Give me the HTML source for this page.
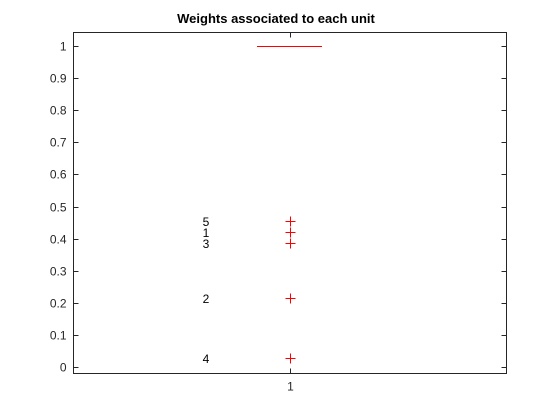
<!DOCTYPE html>
<html><head><meta charset="utf-8"><style>
body{margin:0;background:#fff}
svg{display:block;font-family:"Liberation Sans",Arial,sans-serif}
</style></head><body>
<svg id="chart" width="560" height="420" viewBox="0 0 560 420" xmlns="http://www.w3.org/2000/svg">
<rect x="0" y="0" width="560" height="420" fill="#fff"/>
<text x="276" y="23" text-anchor="middle" font-size="13" font-weight="bold" fill="#000">Weights associated to each unit</text>
<g id="axes"></g>
<g id="marks"></g>
</svg>
<script>
const yTicks=[0,0.1,0.2,0.3,0.4,0.5,0.6,0.7,0.8,0.9,1];
const yTickLabels=["0","0.1","0.2","0.3","0.4","0.5","0.6","0.7","0.8","0.9","1"];
const medianValue=1;
const outlierValues=[0.42,0.215,0.386,0.027,0.455];
const outlierLabels=["1","2","3","4","5"];
const xCategories=["1"];

const L=73.5,R=506.5,T=32.5,B=373.5,y0=367,y1=46;
const ys=v=>y0+(y1-y0)*v;
const xs=i=>290;
const NS="http://www.w3.org/2000/svg";
const ax=document.getElementById('axes'),mk=document.getElementById('marks');
function el(tag,attrs,parent,txt){const e=document.createElementNS(NS,tag);for(const k in attrs)e.setAttribute(k,attrs[k]);if(txt!==undefined)e.textContent=txt;parent.appendChild(e);return e;}
const box=el('rect',{x:L,y:T,width:R-L,height:B-T,fill:'none',stroke:'#262626','stroke-width':1},ax);


yTicks.forEach((v,i)=>{
  const y=Math.round(ys(v))+0.5;
  const t=el('path',{d:`M${L} ${y}h5M${R} ${y}h-5`,stroke:'#262626','stroke-width':1},ax);
  
  
  const lb=el('text',{x:L-7,y:y+4,'text-anchor':'end','font-size':'12',fill:'#262626'},ax,yTickLabels[i]);
  
  
});
xCategories.forEach((c,i)=>{
  const x=xs(i)+0.5;
  const t=el('path',{d:`M${x} ${B}v-5M${x} ${T}v5`,stroke:'#262626','stroke-width':1},ax);
  
  
  const lb=el('text',{x:x,y:B+17,'text-anchor':'middle','font-size':'12',fill:'#262626'},ax,c);
  
  
});
const my=Math.round(ys(medianValue))+0.5;
const med=el('line',{x1:xs(0)-33,x2:xs(0)+32,y1:my,y2:my,stroke:'#f00','stroke-width':1},mk);


outlierValues.forEach((v,i)=>{
  const x=xs(0)+0.5,y=Math.round(ys(v))+0.5;
  const p=el('path',{d:`M${x-5} ${y}h10M${x} ${y-5}v10`,stroke:'#f00','stroke-width':1},mk);
  
  
  const t=el('text',{x:206,y:y+4.5,'text-anchor':'middle','font-size':'12',fill:'#000'},mk,outlierLabels[i]);
  
  
});
</script>
</body></html>
